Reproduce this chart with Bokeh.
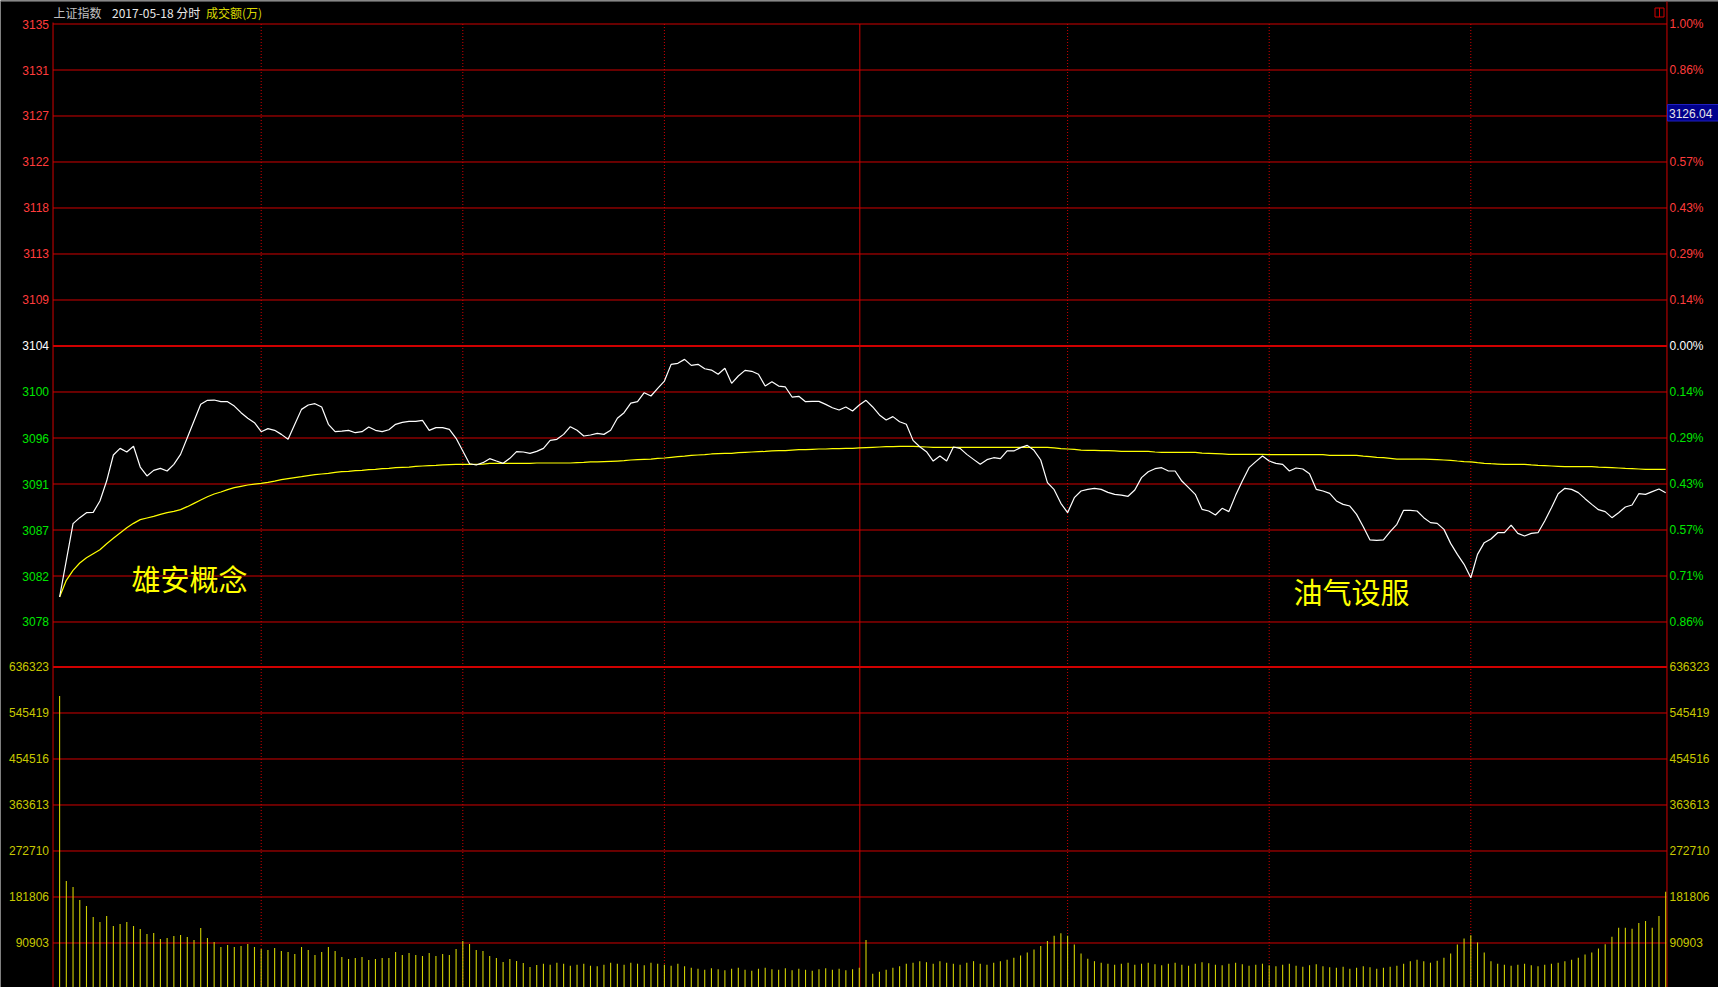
from bokeh.plotting import figure
from bokeh.models import Range1d, ColumnDataSource
from bokeh.core.properties import value
from bokeh.embed import file_html
from bokeh.resources import INLINE

# ---------------- data ----------------
title_name = "上证指数"
title_date = "2017-05-18 分时"
title_vol = "成交额(万)"
prev_close = 3104.44
cursor_value = "3126.04"
notes = ["雄安概念", "油气设服"]

price_levels = [3135.484, 3131.049, 3126.615, 3122.180, 3117.745, 3113.310, 3108.875,
                3104.440, 3100.005, 3095.570, 3091.135, 3086.700, 3082.265, 3077.831]
price_labels = ["3135", "3131", "3127", "3122", "3118", "3113", "3109",
                "3104", "3100", "3096", "3091", "3087", "3082", "3078"]
pct_labels = ["1.00%", "0.86%", "0.71%", "0.57%", "0.43%", "0.29%", "0.14%",
              "0.00%", "0.14%", "0.29%", "0.43%", "0.57%", "0.71%", "0.86%"]
vol_levels = [636323, 545419, 454516, 363613, 272710, 181806, 90903]
vol_labels = ["636323", "545419", "454516", "363613", "272710", "181806", "90903"]

minutes = list(range(240))
half_hour_marks = [30, 60, 90, 150, 180, 210]
midday_mark = 119.08

price = [
    3080.24, 3083.78, 3087.31, 3087.89, 3088.37, 3088.40, 3089.50, 3091.42, 3093.93, 3094.57,
    3094.22, 3094.77, 3092.77, 3091.91, 3092.45, 3092.64, 3092.39, 3093.03, 3093.99, 3095.60,
    3097.21, 3098.82, 3099.20, 3099.23, 3099.07, 3099.07, 3098.65, 3098.01, 3097.47, 3097.05,
    3096.18, 3096.47, 3096.31, 3095.92, 3095.44, 3096.89, 3098.33, 3098.75, 3098.88, 3098.56,
    3096.89, 3096.18, 3096.24, 3096.31, 3096.08, 3096.18, 3096.63, 3096.31, 3096.18, 3096.37,
    3096.89, 3097.08, 3097.18, 3097.18, 3097.27, 3096.31, 3096.57, 3096.57, 3096.40, 3095.54,
    3094.32, 3093.09, 3092.97, 3093.19, 3093.58, 3093.35, 3093.13, 3093.61, 3094.25, 3094.22,
    3094.09, 3094.28, 3094.57, 3095.34, 3095.44, 3095.92, 3096.66, 3096.31, 3095.76, 3095.86,
    3096.02, 3095.92, 3096.31, 3097.47, 3098.01, 3098.94, 3099.07, 3099.94, 3099.62, 3100.36,
    3101.06, 3102.67, 3102.77, 3103.15, 3102.57, 3102.67, 3102.25, 3102.12, 3101.71, 3102.29,
    3100.84, 3101.55, 3102.09, 3102.00, 3101.71, 3100.58, 3101.00, 3100.58, 3100.49, 3099.52,
    3099.59, 3099.07, 3099.10, 3099.10, 3098.81, 3098.49, 3098.27, 3098.56, 3098.17, 3098.75,
    3099.20, 3098.56, 3097.79, 3097.30, 3097.63, 3097.14, 3096.89, 3095.34, 3094.73, 3094.25,
    3093.35, 3093.83, 3093.35, 3094.70, 3094.57, 3093.99, 3093.51, 3093.03, 3093.48, 3093.67,
    3093.58, 3094.32, 3094.32, 3094.64, 3094.86, 3094.38, 3093.45, 3091.26, 3090.59, 3089.27,
    3088.37, 3089.82, 3090.46, 3090.62, 3090.72, 3090.62, 3090.33, 3090.14, 3090.07, 3089.95,
    3090.56, 3091.75, 3092.32, 3092.61, 3092.71, 3092.39, 3092.39, 3091.42, 3090.78, 3090.14,
    3088.69, 3088.53, 3088.15, 3088.79, 3088.47, 3090.04, 3091.42, 3092.71, 3093.29, 3093.83,
    3093.35, 3093.13, 3093.03, 3092.39, 3092.68, 3092.58, 3092.13, 3090.62, 3090.46, 3090.23,
    3089.50, 3089.17, 3089.01, 3088.21, 3087.02, 3085.74, 3085.70, 3085.74, 3086.54, 3087.25,
    3088.60, 3088.60, 3088.53, 3087.89, 3087.41, 3087.34, 3086.76, 3085.41, 3084.35, 3083.39,
    3082.10, 3084.35, 3085.48, 3085.83, 3086.44, 3086.44, 3087.18, 3086.38, 3086.12, 3086.38,
    3086.44, 3087.57, 3088.85, 3090.20, 3090.72, 3090.62, 3090.30, 3089.72, 3089.17, 3088.66,
    3088.47, 3087.89, 3088.37, 3088.92, 3089.11, 3090.20, 3090.14, 3090.40, 3090.65, 3090.30,
]

avg_price = [
    3080.24, 3081.85, 3082.81, 3083.52, 3084.03, 3084.42, 3084.80, 3085.38, 3085.90, 3086.41,
    3086.92, 3087.34, 3087.70, 3087.86, 3088.02, 3088.21, 3088.37, 3088.50, 3088.66, 3088.95,
    3089.27, 3089.59, 3089.91, 3090.17, 3090.36, 3090.59, 3090.78, 3090.91, 3091.04, 3091.13,
    3091.20, 3091.30, 3091.42, 3091.55, 3091.65, 3091.75, 3091.84, 3091.94, 3092.03, 3092.10,
    3092.16, 3092.26, 3092.32, 3092.36, 3092.42, 3092.45, 3092.52, 3092.55, 3092.61, 3092.64,
    3092.71, 3092.74, 3092.77, 3092.84, 3092.87, 3092.90, 3092.93, 3092.97, 3093.00, 3093.03,
    3093.03, 3093.03, 3093.03, 3093.06, 3093.13, 3093.13, 3093.13, 3093.13, 3093.13, 3093.13,
    3093.13, 3093.16, 3093.16, 3093.16, 3093.16, 3093.16, 3093.16, 3093.19, 3093.22, 3093.26,
    3093.26, 3093.29, 3093.32, 3093.35, 3093.38, 3093.45, 3093.48, 3093.51, 3093.54, 3093.61,
    3093.64, 3093.71, 3093.77, 3093.83, 3093.90, 3093.93, 3093.96, 3094.03, 3094.06, 3094.09,
    3094.09, 3094.16, 3094.19, 3094.22, 3094.25, 3094.28, 3094.32, 3094.35, 3094.35, 3094.41,
    3094.44, 3094.44, 3094.48, 3094.51, 3094.51, 3094.54, 3094.54, 3094.57, 3094.57, 3094.61,
    3094.64, 3094.67, 3094.70, 3094.73, 3094.73, 3094.77, 3094.77, 3094.77, 3094.73, 3094.70,
    3094.67, 3094.67, 3094.67, 3094.67, 3094.67, 3094.67, 3094.67, 3094.67, 3094.67, 3094.67,
    3094.67, 3094.67, 3094.67, 3094.67, 3094.67, 3094.67, 3094.67, 3094.67, 3094.61, 3094.54,
    3094.51, 3094.48, 3094.41, 3094.38, 3094.38, 3094.35, 3094.35, 3094.32, 3094.28, 3094.28,
    3094.28, 3094.28, 3094.28, 3094.22, 3094.19, 3094.19, 3094.19, 3094.19, 3094.19, 3094.19,
    3094.12, 3094.09, 3094.06, 3094.03, 3093.99, 3093.99, 3093.99, 3093.99, 3093.99, 3093.99,
    3093.96, 3093.96, 3093.96, 3093.96, 3093.96, 3093.96, 3093.96, 3093.96, 3093.96, 3093.90,
    3093.90, 3093.90, 3093.90, 3093.90, 3093.83, 3093.77, 3093.71, 3093.67, 3093.61, 3093.54,
    3093.54, 3093.54, 3093.54, 3093.54, 3093.51, 3093.48, 3093.45, 3093.42, 3093.35, 3093.29,
    3093.26, 3093.19, 3093.13, 3093.09, 3093.06, 3093.03, 3093.03, 3093.03, 3093.03, 3092.97,
    3092.93, 3092.90, 3092.87, 3092.84, 3092.81, 3092.81, 3092.81, 3092.81, 3092.81, 3092.77,
    3092.74, 3092.71, 3092.68, 3092.64, 3092.61, 3092.58, 3092.55, 3092.55, 3092.55, 3092.55,
]

volume = [
    579000, 213400, 201600, 175900, 164000, 142300, 132400, 144300, 124500, 128400,
    132400, 124500, 118600, 108700, 110700, 98800, 100800, 104700, 106700, 102800,
    96800, 120500, 100800, 92900, 83000, 86900, 83000, 85000, 88900, 83000,
    79000, 77100, 81000, 75100, 73100, 69200, 83000, 77100, 67200, 73100,
    83000, 75100, 63200, 59300, 61300, 63200, 57300, 59300, 61300, 61300,
    73100, 67200, 71100, 67200, 65200, 71100, 65200, 69200, 67200, 79000,
    94900, 88900, 77100, 75100, 65200, 61300, 53400, 59300, 55300, 51400,
    43500, 47400, 50000, 48000, 52000, 50000, 46000, 48000, 50000, 46000,
    45000, 48000, 52000, 50000, 48000, 52000, 50000, 47000, 52000, 50000,
    48000, 46000, 50000, 45000, 42000, 40000, 38000, 41000, 39000, 37000,
    40000, 42000, 38000, 36000, 40000, 42000, 39000, 38000, 41000, 37000,
    40000, 38000, 36000, 39000, 41000, 38000, 40000, 37000, 39000, 42000,
    97000, 30000, 34000, 38000, 42000, 45000, 50000, 52000, 55000, 53000,
    50000, 55000, 52000, 50000, 48000, 52000, 55000, 50000, 48000, 52000,
    55000, 58000, 62000, 66000, 72000, 78000, 85000, 95000, 105000, 110000,
    105000, 88000, 70000, 60000, 55000, 52000, 50000, 48000, 50000, 52000,
    48000, 50000, 52000, 49000, 47000, 50000, 52000, 48000, 46000, 50000,
    53000, 51000, 48000, 47000, 50000, 52000, 49000, 46000, 48000, 50000,
    47000, 45000, 48000, 50000, 46000, 44000, 47000, 49000, 45000, 43000,
    42000, 44000, 40000, 42000, 45000, 43000, 40000, 42000, 44000, 46000,
    50000, 55000, 58000, 55000, 52000, 56000, 62000, 70000, 88000, 100000,
    106000, 92000, 72000, 55000, 50000, 48000, 46000, 48000, 50000, 47000,
    45000, 48000, 50000, 52000, 55000, 58000, 62000, 68000, 72000, 80000,
    88300, 103400, 121200, 121200, 119200, 130400, 134400, 121200, 144300, 192300,
]

assert len(price) == 240 and len(avg_price) == 240 and len(volume) == 240

# ---------------- layout / style ----------------
W, H = 1718, 987
X_LO, X_HI = -8.795, 246.860
P_LO, P_HI = 3042.592, 3137.750
V_LO, V_HI = 2964.2, 1953410.0
AX_L, AX_R = -0.98, 239.19

GRID = "#D00000"
RED_T = "#FF3C3C"
GREEN_T = "#00E600"
WHITE = "#FFFFFF"
YEL_T = "#C8C800"
BAR = "#D0D000"
AVG = "#FFFF00"
NUM_FONT = value("Liberation Sans")
CJK_FONT = value("Noto Sans CJK SC")


def px_x(px):
    return X_LO + px / W * (X_HI - X_LO)


def px_p(py):
    return P_HI - py / H * (P_HI - P_LO)


p = figure(width=W, height=H, x_range=Range1d(X_LO, X_HI), y_range=Range1d(P_LO, P_HI),
           x_axis_type=None, y_axis_type=None, tools="", toolbar_location=None,
           output_backend="svg", background_fill_color="black", border_fill_color="black",
           outline_line_color=None, min_border=0)
p.extra_y_ranges = {"vol": Range1d(V_LO, V_HI)}

# top frame edge
p.segment(x0=[X_LO], x1=[X_HI], y0=px_p(0.5), y1=px_p(0.5), line_color="#A0A0A0", line_width=1)

# horizontal grid lines
thin_p = [v for v in price_levels if v != prev_close]
p.segment(x0=AX_L, x1=AX_R, y0=thin_p, y1=thin_p, line_color=GRID, line_width=1)
p.segment(x0=AX_L, x1=AX_R, y0=[prev_close], y1=[prev_close], line_color=GRID, line_width=2)
p.segment(x0=AX_L, x1=AX_R, y0=vol_levels[1:], y1=vol_levels[1:], line_color=GRID,
          line_width=1, y_range_name="vol")
p.segment(x0=AX_L, x1=AX_R, y0=vol_levels[:1], y1=vol_levels[:1], line_color=GRID,
          line_width=2, y_range_name="vol")

# vertical lines
top = price_levels[0]
p.segment(x0=half_hour_marks, x1=half_hour_marks, y0=top, y1=P_LO, line_color=GRID,
          line_width=1, line_dash="1 2")
p.segment(x0=[midday_mark], x1=[midday_mark], y0=top, y1=P_LO, line_color=GRID, line_width=1)
p.segment(x0=[AX_L], x1=[AX_L], y0=px_p(22), y1=P_LO, line_color=GRID, line_width=1)
p.segment(x0=[AX_R], x1=[AX_R], y0=px_p(1), y1=P_LO, line_color=GRID, line_width=1)

# volume bars
p.segment(x0=minutes, x1=minutes, y0=0, y1=volume, y_range_name="vol",
          line_color=BAR, line_width=1.1)

# average and price lines
p.line(minutes, avg_price, line_color=AVG, line_width=1.2)
p.line(minutes, price, line_color=WHITE, line_width=1.2)

# axis tick labels
left_colors = [RED_T] * 7 + [WHITE] + [GREEN_T] * 6
left_src = ColumnDataSource(dict(y=price_levels, t=price_labels, c=left_colors))
p.text(x=px_x(48.5), y="y", text="t", text_color="c", source=left_src, text_align="right",
       text_baseline="middle", text_font=NUM_FONT, text_font_size="12px")
right_idx = [k for k in range(len(pct_labels)) if k != 2]  # "0.71%" hidden under cursor box
right_src = ColumnDataSource(dict(y=[price_levels[k] for k in right_idx],
                                  t=[pct_labels[k] for k in right_idx],
                                  c=[left_colors[k] for k in right_idx]))
p.text(x=px_x(1669), y="y", text="t", text_color="c", source=right_src, text_align="left",
       text_baseline="middle", text_font=NUM_FONT, text_font_size="12px")
p.text(x=px_x(48.5), y=vol_levels, text=vol_labels, text_color=YEL_T, text_align="right",
       text_baseline="middle", text_font=NUM_FONT, text_font_size="12px", y_range_name="vol")
p.text(x=px_x(1669), y=vol_levels, text=vol_labels, text_color=YEL_T, text_align="left",
       text_baseline="middle", text_font=NUM_FONT, text_font_size="12px", y_range_name="vol")

# title
p.text(x=[px_x(53)], y=[px_p(12)], text=[title_name], text_color="#C0C0C0",
       text_align="left", text_baseline="middle", text_font=CJK_FONT, text_font_size="12px")
p.text(x=[px_x(111.5)], y=[px_p(12)], text=[title_date], text_color="#E8E8E8",
       text_align="left", text_baseline="middle", text_font=CJK_FONT, text_font_size="12px")
p.text(x=[px_x(205.5)], y=[px_p(12)], text=[title_vol], text_color="#D8D800",
       text_align="left", text_baseline="middle", text_font=CJK_FONT, text_font_size="12px")

# notes
p.text(x=[px_x(131), px_x(1293)], y=[px_p(577), px_p(590)], text=notes, text_color="#FFFF00",
       text_align="left", text_baseline="middle", text_font=CJK_FONT, text_font_size="29px")

# cursor value box on the right axis
p.quad(left=[px_x(1667)], right=[px_x(1720)], top=[px_p(104)], bottom=[px_p(120.5)],
       fill_color="#00008C", line_color="#2020C0", line_width=1)
p.text(x=[px_x(1668.5)], y=[px_p(112.5)], text=[cursor_value], text_color="#E8E8E8",
       text_align="left", text_baseline="middle", text_font=NUM_FONT, text_font_size="12px")

# small window icon top-right
p.quad(left=[px_x(1654.5)], right=[px_x(1663.5)], top=[px_p(7.5)], bottom=[px_p(16.5)],
       fill_color=None, line_color=GRID, line_width=1)
p.segment(x0=[px_x(1659)], x1=[px_x(1659)], y0=px_p(7.5), y1=px_p(16.5), line_color=GRID)

open("out.html", "w").write(file_html(p, INLINE))
